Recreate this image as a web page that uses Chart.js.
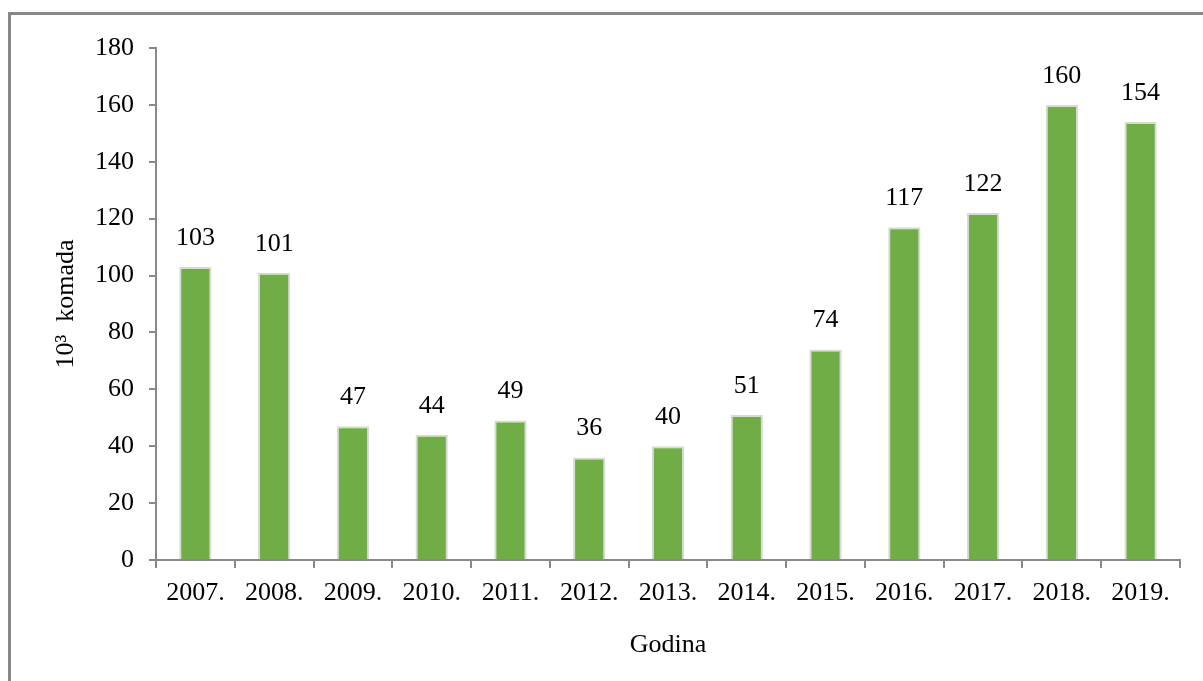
<!DOCTYPE html>
<html>
<head>
<meta charset="utf-8">
<title>Godina - 10³ komada</title>
<script src="https://cdn.jsdelivr.net/npm/chart.js@4.4.1/dist/chart.umd.min.js"></script>
<style>
    body { margin: 0; background: #fff; }
    .wrap { position: relative; width: 1203px; height: 681px; overflow: hidden; }
    .frame {
        position: absolute; left: 8px; top: 12px; width: 1300px; height: 800px;
        border-left: 3px solid #888; border-top: 3px solid #888;
    }
    #chart { position: absolute; left: 0; top: 0; }
</style>
</head>
<body>
<div class="wrap">
    <div class="frame"></div>
    <canvas id="chart" width="1203" height="681"></canvas>
</div>
<script>
const years = ['2007.', '2008.', '2009.', '2010.', '2011.', '2012.', '2013.', '2014.', '2015.', '2016.', '2017.', '2018.', '2019.'];
const quantities = [103, 101, 47, 44, 49, 36, 40, 51, 74, 117, 122, 160, 154];
const yTicks = [0, 20, 40, 60, 80, 100, 120, 140, 160, 180];

const serif = '"Liberation Serif", "Times New Roman", serif';
const axisGrey = '#898989';

// value labels above each bar
const barLabels = {
    id: 'barLabels',
    afterDatasetsDraw(chart) {
        const ctx = chart.ctx;
        const meta = chart.getDatasetMeta(0);
        ctx.save();
        ctx.font = '26px ' + serif;
        ctx.fillStyle = '#000';
        ctx.textAlign = 'center';
        ctx.textBaseline = 'middle';
        meta.data.forEach(function(bar, i) {
            ctx.fillText(String(quantities[i]), bar.x, bar.y - 29);
        });
        ctx.restore();
    }
};

Chart.defaults.font.family = serif;
Chart.defaults.color = '#000';

const ctx = document.getElementById('chart').getContext('2d');
const chart = new Chart(ctx, {
    type: 'bar',
    data: {
        labels: years,
        datasets: [{
            data: quantities,
            backgroundColor: '#70AD47',
            borderColor: '#D9D9D9',
            borderWidth: 2,
            categoryPercentage: 1,
            barPercentage: 0.41
        }]
    },
    options: {
        responsive: false,
        animation: false,
        devicePixelRatio: 1,
        layout: { padding: { top: 48, left: 51, right: 23, bottom: 0 } },
        plugins: {
            legend: { display: false },
            tooltip: { enabled: false }
        },
        scales: {
            x: {
                grid: {
                    offset: true,
                    drawOnChartArea: false,
                    drawTicks: true,
                    tickLength: 8,
                    color: axisGrey,
                    lineWidth: 2
                },
                border: { color: axisGrey, width: 2 },
                ticks: { font: { size: 26 }, padding: 10, maxRotation: 0, autoSkip: false },
                title: {
                    display: true,
                    text: 'Godina',
                    font: { size: 26 },
                    padding: { top: 0, bottom: 20 }
                },
                afterFit: function(scale) { scale.height = 121; }
            },
            y: {
                min: 0,
                max: 180,
                afterBuildTicks: function(scale) {
                    scale.ticks = yTicks.map(function(v) { return { value: v }; });
                },
                grid: {
                    drawOnChartArea: false,
                    drawTicks: true,
                    tickLength: 7,
                    color: axisGrey,
                    lineWidth: 2
                },
                border: { color: axisGrey, width: 2 },
                ticks: { font: { size: 26 }, padding: 15 },
                title: {
                    display: true,
                    text: '10³  komada',
                    font: { size: 26 },
                    padding: { top: 0, bottom: 0 }
                },
                afterFit: function(scale) { scale.width = 105; }
            }
        }
    },
    plugins: [barLabels]
});
</script>
</body>
</html>
